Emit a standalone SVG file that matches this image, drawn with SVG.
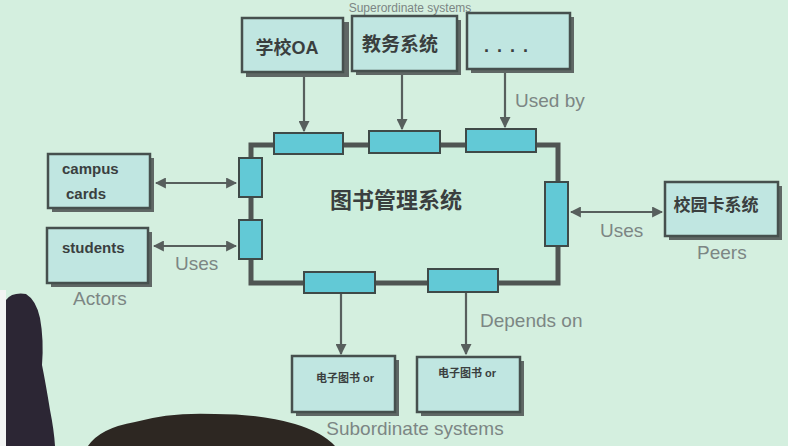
<svg xmlns="http://www.w3.org/2000/svg" width="788" height="446" viewBox="0 0 788 446">
<style>
.box{fill:#c0e6e1;stroke:#46504e;stroke-width:2.5}
.shadow{fill:#5f6765}
.port{fill:#62c9d6;stroke:#3f4a48;stroke-width:2}
.frame{fill:#cdeedd;stroke:#4f5553;stroke-width:5}
.conn{stroke:#575f5d;stroke-width:2.2;fill:none}
.lbl{font-family:"Liberation Sans","DejaVu Sans",sans-serif;font-size:19px;fill:#7c8684}
.bt{font-family:"Liberation Sans","Noto Sans CJK SC",sans-serif;font-weight:bold;fill:#3a3f3f}
</style>
<defs>
<marker id="ah" viewBox="0 0 10 10" refX="9" refY="5" markerWidth="5" markerHeight="5" orient="auto-start-reverse">
<path d="M0,0 L10,5 L0,10 z" fill="#575f5d"/>
</marker>
</defs>
<rect width="788" height="446" fill="#d4efdf"/>
<text class="lbl" x="410" y="11.5" text-anchor="middle" style="font-size:12px">Superordinate systems</text>

<g id="connectors">
<line class="conn" x1="304" y1="74" x2="304" y2="131" marker-end="url(#ah)"/>
<line class="conn" x1="402" y1="72" x2="402" y2="129" marker-end="url(#ah)"/>
<line class="conn" x1="505" y1="70" x2="505" y2="127" marker-end="url(#ah)"/>
<line class="conn" x1="156" y1="183" x2="236" y2="183" marker-start="url(#ah)" marker-end="url(#ah)"/>
<line class="conn" x1="154" y1="246" x2="236" y2="246" marker-start="url(#ah)" marker-end="url(#ah)"/>
<line class="conn" x1="571" y1="212" x2="662" y2="212" marker-start="url(#ah)" marker-end="url(#ah)"/>
<line class="conn" x1="341" y1="294" x2="341" y2="354" marker-end="url(#ah)"/>
<line class="conn" x1="466" y1="292" x2="466" y2="354" marker-end="url(#ah)"/>
</g>

<g id="main">
<rect class="frame" x="251" y="145" width="307" height="138"/>
<text class="bt" x="396" y="208" font-size="22" text-anchor="middle" font-family="'Noto Sans CJK SC',sans-serif">图书管理系统</text>
<rect class="port" x="274" y="133" width="69" height="21"/>
<rect class="port" x="369" y="131" width="71" height="22"/>
<rect class="port" x="466" y="129" width="70" height="23"/>
<rect class="port" x="239" y="158" width="23" height="39"/>
<rect class="port" x="239" y="220" width="23" height="39"/>
<rect class="port" x="545" y="182" width="23" height="64"/>
<rect class="port" x="304" y="272" width="71" height="21"/>
<rect class="port" x="428" y="269" width="70" height="23"/>
</g>

<g id="oa">
<rect class="shadow" x="246" y="22" width="103" height="55"/>
<rect class="box" x="242" y="18" width="101" height="54"/>
<text class="bt" x="287" y="54" font-size="18" text-anchor="middle">学校OA</text>
</g>
<g id="jiaowu">
<rect class="shadow" x="356" y="20" width="105" height="55"/>
<rect class="box" x="352" y="16" width="105" height="55"/>
<text class="bt" x="400" y="51" font-size="19" text-anchor="middle">教务系统</text>
</g>
<g id="more">
<rect class="shadow" x="471" y="17" width="103" height="56"/>
<rect class="box" x="467" y="13" width="103" height="56"/>
<text class="bt" x="510" y="52" font-size="18" text-anchor="middle" letter-spacing="8">....</text>
</g>
<text class="lbl" x="515" y="107">Used by</text>

<g id="campus">
<rect class="shadow" x="52" y="158" width="102" height="54"/>
<rect class="box" x="48" y="154" width="102" height="54"/>
<text class="bt" x="62" y="174" font-size="15">campus</text>
<text class="bt" x="66" y="199" font-size="15">cards</text>
</g>
<g id="students">
<rect class="shadow" x="51" y="232" width="101" height="55"/>
<rect class="box" x="47" y="228" width="101" height="55"/>
<text class="bt" x="62" y="253" font-size="15">students</text>
</g>
<text class="lbl" x="175" y="270">Uses</text>
<text class="lbl" x="73" y="305">Actors</text>

<g id="campuscard">
<rect class="shadow" x="669" y="186" width="113" height="54"/>
<rect class="box" x="665" y="182" width="113" height="54"/>
<text class="bt" x="716" y="211" font-size="17" text-anchor="middle">校园卡系统</text>
</g>
<text class="lbl" x="600" y="237">Uses</text>
<text class="lbl" x="697" y="259">Peers</text>

<g id="ebook1">
<rect class="shadow" x="296" y="360" width="103" height="56"/>
<rect class="box" x="292" y="356" width="103" height="56"/>
<text class="bt" x="345" y="382" font-size="11" text-anchor="middle">电子图书 or</text>
</g>
<g id="ebook2">
<rect class="shadow" x="421" y="361" width="103" height="55"/>
<rect class="box" x="417" y="357" width="103" height="55"/>
<text class="bt" x="467" y="377" font-size="11" text-anchor="middle">电子图书 or</text>
</g>
<text class="lbl" x="480" y="327">Depends on</text>
<text class="lbl" x="415" y="435" text-anchor="middle">Subordinate systems</text>

<rect x="0" y="290" width="6" height="156" fill="#f2f4f3"/>
<path d="M6,300 Q12,292 26,294 Q36,300 40,318 Q44,340 42,365 Q46,385 50,410 Q54,430 55,446 L6,446 Z" fill="#2c2634"/>
<path d="M88,446 Q100,428 135,422 Q170,412 215,414 Q260,414 295,424 Q322,432 335,446 Z" fill="#2d2722"/>
</svg>
